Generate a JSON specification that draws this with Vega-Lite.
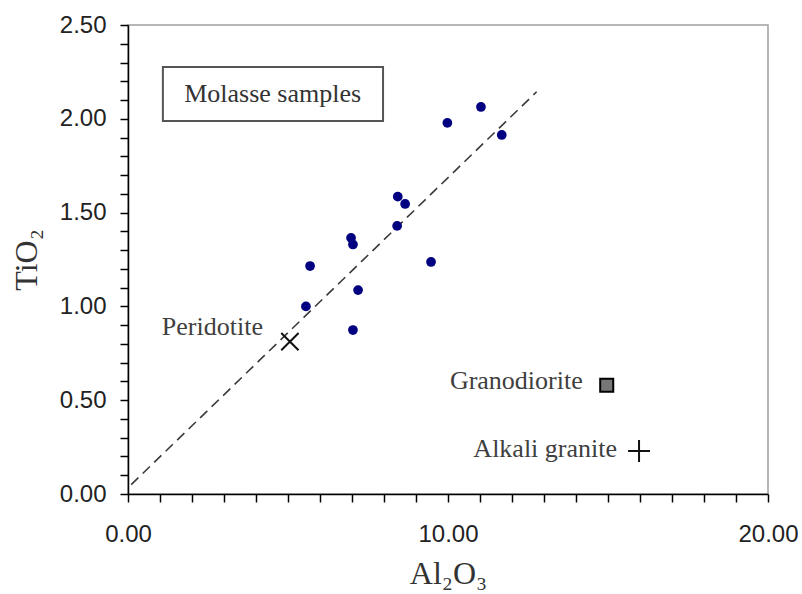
{
  "$schema": "https://vega.github.io/schema/vega-lite/v6.json",
  "width": 640,
  "height": 469,
  "autosize": "none",
  "padding": {"left": 128, "top": 25, "right": 34, "bottom": 100},
  "background": "white",
  "config": {
    "view": {"stroke": "#a0a0a0", "strokeWidth": 1.5},
    "axis": {"grid": false}
  },
  "datasets": {
    "samples": [
      {"x": 5.69, "y": 1.215},
      {"x": 5.56, "y": 1.0},
      {"x": 6.97, "y": 1.365},
      {"x": 7.03, "y": 1.33},
      {"x": 7.19, "y": 1.087},
      {"x": 7.03, "y": 0.874},
      {"x": 8.43, "y": 1.585},
      {"x": 8.66, "y": 1.546},
      {"x": 8.41, "y": 1.429},
      {"x": 9.47, "y": 1.237},
      {"x": 9.98, "y": 1.978},
      {"x": 11.03, "y": 2.063},
      {"x": 11.68, "y": 1.914}
    ],
    "refs": [
      {"name": "Peridotite", "x": 5.06, "y": 0.812},
      {"name": "Granodiorite", "x": 14.96, "y": 0.58},
      {"name": "Alkali granite", "x": 15.97, "y": 0.229}
    ],
    "trend": [
      {"x": 0.1, "y": 0.05},
      {"x": 12.77, "y": 2.144}
    ],
    "box": [
      {"x": 1.09, "x2": 7.97, "y": 2.276, "y2": 1.988, "label": "Molasse samples", "lx": 4.52, "ly": 2.09}
    ]
  },
  "layer": [
    {
      "data": {"name": "trend"},
      "mark": {"type": "line", "color": "#3a3a3a", "strokeWidth": 1.6, "strokeDash": [10, 6]},
      "encoding": {
        "x": {
          "field": "x", "type": "quantitative",
          "scale": {"domain": [0, 20], "nice": false, "zero": false},
          "axis": {
            "title": "Al₂O₃",
            "values": [0,1,2,3,4,5,6,7,8,9,10,11,12,13,14,15,16,17,18,19,20],
            "tickCount": 40,
            "labelExpr": "datum.value % 10 == 0 ? format(datum.value, '.2f') : ''",
            "labelFlush": false,
            "labelOverlap": false,
            "labelFont": "Liberation Sans",
            "labelFontSize": 24,
            "labelColor": "#222",
            "labelPadding": 20,
            "tickSize": 8,
            "tickColor": "#000",
            "tickWidth": 1.5,
            "domainColor": "#000",
            "domainWidth": 1.5,
            "titleFont": "Liberation Serif",
            "titleFontSize": 32,
            "titleFontWeight": "normal",
            "titleColor": "#333",
            "titlePadding": 12
          }
        },
        "y": {
          "field": "y", "type": "quantitative",
          "scale": {"domain": [0, 2.5], "nice": false, "zero": false},
          "axis": {
            "title": "TiO₂",
            "values": [0,0.1,0.2,0.3,0.4,0.5,0.6,0.7,0.8,0.9,1,1.1,1.2,1.3,1.4,1.5,1.6,1.7,1.8,1.9,2,2.1,2.2,2.3,2.4,2.5],
            "tickCount": 40,
            "labelExpr": "abs(datum.value * 2 - round(datum.value * 2)) < 0.001 ? format(datum.value, '.2f') : ''",
            "labelOverlap": false,
            "labelFlush": false,
            "labelFont": "Liberation Sans",
            "labelFontSize": 24,
            "labelColor": "#222",
            "labelPadding": 14,
            "tickSize": 8,
            "tickColor": "#000",
            "tickWidth": 1.5,
            "domainColor": "#000",
            "domainWidth": 1.5,
            "titleFont": "Liberation Serif",
            "titleFontSize": 32,
            "titleFontWeight": "normal",
            "titleColor": "#333",
            "titlePadding": 16
          }
        }
      }
    },
    {
      "data": {"name": "box"},
      "mark": {"type": "rect", "fill": "white", "stroke": "#555", "strokeWidth": 2},
      "encoding": {
        "x": {"field": "x", "type": "quantitative"},
        "x2": {"field": "x2"},
        "y": {"field": "y", "type": "quantitative"},
        "y2": {"field": "y2"}
      }
    },
    {
      "data": {"name": "box"},
      "mark": {"type": "text", "font": "Liberation Serif", "fontSize": 26, "color": "#333", "align": "center", "baseline": "alphabetic"},
      "encoding": {
        "x": {"field": "lx", "type": "quantitative"},
        "y": {"field": "ly", "type": "quantitative"},
        "text": {"field": "label"}
      }
    },
    {
      "data": {"name": "samples"},
      "mark": {"type": "point", "shape": "circle", "filled": true, "size": 95, "color": "#000080", "opacity": 1},
      "encoding": {
        "x": {"field": "x", "type": "quantitative"},
        "y": {"field": "y", "type": "quantitative"}
      }
    },
    {
      "data": {"name": "refs"},
      "transform": [{"filter": "datum.name == 'Peridotite'"}],
      "layer": [
        {
          "mark": {"type": "point", "shape": "M-1,-1L1,1M-1,1L1,-1", "filled": false, "size": 300, "stroke": "#111", "strokeWidth": 2, "opacity": 1},
          "encoding": {
            "x": {"field": "x", "type": "quantitative"},
            "y": {"field": "y", "type": "quantitative"}
          }
        },
        {
          "mark": {"type": "text", "font": "Liberation Serif", "fontSize": 26, "color": "#404040", "align": "right", "baseline": "alphabetic", "dx": -27, "dy": -7},
          "encoding": {
            "x": {"field": "x", "type": "quantitative"},
            "y": {"field": "y", "type": "quantitative"},
            "text": {"field": "name"}
          }
        }
      ]
    },
    {
      "data": {"name": "refs"},
      "transform": [{"filter": "datum.name == 'Granodiorite'"}],
      "layer": [
        {
          "mark": {"type": "point", "shape": "square", "filled": true, "size": 170, "fill": "#777", "stroke": "#000", "strokeWidth": 2, "opacity": 1},
          "encoding": {
            "x": {"field": "x", "type": "quantitative"},
            "y": {"field": "y", "type": "quantitative"}
          }
        },
        {
          "mark": {"type": "text", "font": "Liberation Serif", "fontSize": 26, "color": "#404040", "align": "right", "baseline": "alphabetic", "dx": -24, "dy": 4},
          "encoding": {
            "x": {"field": "x", "type": "quantitative"},
            "y": {"field": "y", "type": "quantitative"},
            "text": {"field": "name"}
          }
        }
      ]
    },
    {
      "data": {"name": "refs"},
      "transform": [{"filter": "datum.name == 'Alkali granite'"}],
      "layer": [
        {
          "mark": {"type": "point", "shape": "M-1,0L1,0M0,-1L0,1", "filled": false, "size": 480, "stroke": "#111", "strokeWidth": 2, "opacity": 1},
          "encoding": {
            "x": {"field": "x", "type": "quantitative"},
            "y": {"field": "y", "type": "quantitative"}
          }
        },
        {
          "mark": {"type": "text", "font": "Liberation Serif", "fontSize": 26, "color": "#404040", "align": "right", "baseline": "alphabetic", "dx": -22, "dy": 6},
          "encoding": {
            "x": {"field": "x", "type": "quantitative"},
            "y": {"field": "y", "type": "quantitative"},
            "text": {"field": "name"}
          }
        }
      ]
    }
  ]
}
